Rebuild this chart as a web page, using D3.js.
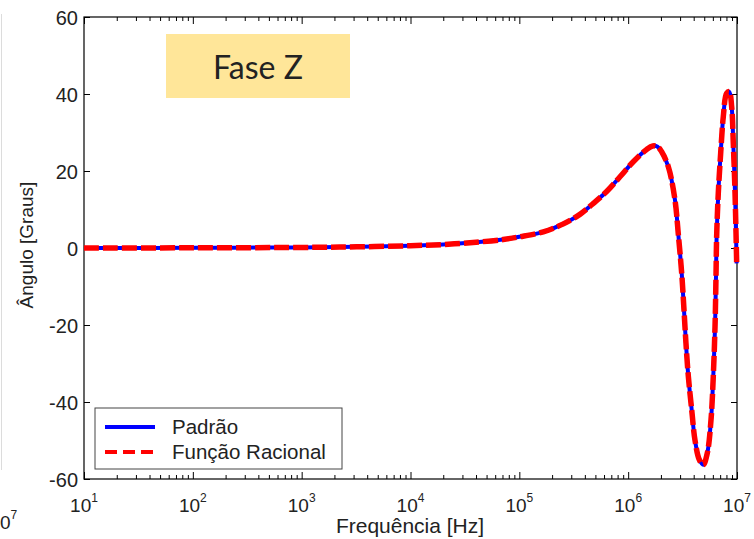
<!DOCTYPE html>
<html>
<head>
<meta charset="utf-8">
<script src="https://cdn.jsdelivr.net/npm/d3@7"></script>
<style>
  body { margin: 0; background: #fff; }
  svg { display: block; }
  text { font-family: "Liberation Sans", Arial, sans-serif; fill: #222; }
</style>
</head>
<body>
<svg id="chart" width="754" height="539"></svg>
<script>
// Impedance phase vs. frequency: reference response and rational-function fit
const freqHz = [
  10, 100, 1000, 3.2e3, 1e4, 2.0e4, 4.0e4, 7.1e4, 1.0e5, 1.66e5, 2.51e5,
  3.63e5, 4.79e5, 6.31e5, 8.41e5, 1.114e6, 1.479e6, 1.683e6, 1.862e6, 2.032e6,
  2.339e6, 2.692e6, 2.884e6, 3.105e6, 3.258e6, 3.396e6, 3.573e6, 3.837e6,
  4.111e6, 4.508e6, 4.898e6, 5.333e6, 5.768e6, 6.053e6, 6.281e6, 6.412e6,
  6.501e6, 6.730e6, 7.079e6, 7.482e6, 8.035e6, 8.492e6, 8.933e6, 9.247e6,
  9.594e6, 9.931e6
];
const padrao = [
  0.0, 0.05, 0.15, 0.3, 0.6, 0.9, 1.5, 2.2, 2.9, 4.2, 6.2,
  8.8, 11.6, 14.6, 18.5, 22.4, 25.6, 26.5, 26.3, 25.0,
  21.1, 12.5, 3.8, -6.6, -16.1, -24.7, -33.4, -42.1,
  -49.9, -55.0, -56.3, -53.3, -44.7, -33.4, -20.4, -7.4,
  3.0, 14.2, 24.6, 34.1, 40.2, 40.6, 36.7, 27.2,
  14.2, -4.0
];
const funcaoRacional = [
  0.0, 0.05, 0.15, 0.3, 0.6, 0.9, 1.5, 2.2, 2.9, 4.2, 6.2,
  8.8, 11.6, 14.6, 18.5, 22.4, 25.6, 26.5, 26.3, 25.0,
  21.1, 12.5, 3.8, -6.6, -16.1, -24.7, -33.4, -42.1,
  -49.9, -55.0, -56.3, -53.3, -44.7, -33.4, -20.4, -7.4,
  3.0, 14.2, 24.6, 34.1, 40.2, 40.6, 36.7, 27.2,
  14.2, -4.0
];
const yTicks = [-60, -40, -20, 0, 20, 40, 60];
const xTickExponents = [1, 2, 3, 4, 5, 6, 7];
const legendLabels = ["Padrão", "Função Racional"];
const titleText = "Fase Z";
const xLabel = "Frequência [Hz]";
const yLabel = "Ângulo [Graus]";

const svg = d3.select("#chart");
const plot = { left: 84, top: 17, right: 737, bottom: 479 };

const x = d3.scaleLog().domain([10, 1e7]).range([plot.left, plot.right]);
const y = d3.scaleLinear().domain([-60, 60]).range([plot.bottom, plot.top]);

const majorX = xTickExponents.map(e => Math.pow(10, e));
const minorX = [];
for (let e = 1; e < 7; e++) for (let m = 2; m <= 9; m++) minorX.push(m * Math.pow(10, e));

// faint edge of the neighbouring figure on the left
svg.append("line")
  .attr("x1", 1.5).attr("x2", 1.5).attr("y1", 14).attr("y2", 470)
  .attr("stroke", "#dcdcdc").attr("stroke-width", 1);
const edgeLabel = svg.append("text")
  .attr("x", 0).attr("y", 529)
  .style("font-size", "19px");
edgeLabel.append("tspan").text("0");
edgeLabel.append("tspan").attr("dy", -10).style("font-size", "12px").text("7");

// axis ticks (MATLAB style, pointing inward on all four sides)
function styleAxis(g) {
  g.select(".domain").remove();
  g.selectAll(".tick line").attr("stroke", "#000").attr("stroke-width", 1);
}

svg.append("g").attr("transform", `translate(0,${plot.bottom})`)
  .call(d3.axisBottom(x).tickValues(majorX).tickSize(-7).tickFormat(""))
  .call(styleAxis);
svg.append("g").attr("transform", `translate(0,${plot.bottom})`)
  .call(d3.axisBottom(x).tickValues(minorX).tickSize(-4).tickFormat(""))
  .call(styleAxis);
svg.append("g").attr("transform", `translate(0,${plot.top})`)
  .call(d3.axisTop(x).tickValues(majorX).tickSize(-7).tickFormat(""))
  .call(styleAxis);
svg.append("g").attr("transform", `translate(0,${plot.top})`)
  .call(d3.axisTop(x).tickValues(minorX).tickSize(-4).tickFormat(""))
  .call(styleAxis);

const yAxisLeft = svg.append("g").attr("transform", `translate(${plot.left},0)`)
  .call(d3.axisLeft(y).tickValues(yTicks).tickSize(-6).tickPadding(6).tickFormat(d => String(d)))
  .call(styleAxis);
yAxisLeft.selectAll(".tick text")
  .style("font-size", "20px")
  .attr("font-family", null)
  .attr("fill", "#222")
  .attr("dy", "0.36em");

svg.append("g").attr("transform", `translate(${plot.right},0)`)
  .call(d3.axisRight(y).tickValues(yTicks).tickSize(-6).tickFormat(""))
  .call(styleAxis);

// x tick labels as powers of ten
const xLabels = svg.append("g").selectAll("text")
  .data(xTickExponents)
  .join("text")
  .attr("x", e => x(Math.pow(10, e)))
  .attr("y", 512)
  .attr("text-anchor", "middle")
  .style("font-size", "19px");
xLabels.append("tspan").text("10");
xLabels.append("tspan").attr("dy", -10).style("font-size", "12px").text(e => e);

// plot frame
svg.append("rect")
  .attr("x", plot.left).attr("y", plot.top)
  .attr("width", plot.right - plot.left).attr("height", plot.bottom - plot.top)
  .attr("fill", "none").attr("stroke", "#000").attr("stroke-width", 1.2);

// axis titles
svg.append("text")
  .attr("x", 410).attr("y", 533)
  .attr("text-anchor", "middle").style("font-size", "21px").attr("fill", "#333")
  .text(xLabel);
svg.append("text")
  .attr("transform", `translate(33,${(plot.top + plot.bottom) / 2 - 3}) rotate(-90)`)
  .attr("text-anchor", "middle").style("font-size", "19px").attr("fill", "#333")
  .text(yLabel);

// curves
const line = d3.line()
  .x((d, i) => x(freqHz[i]))
  .y(d => y(d))
  .curve(d3.curveCatmullRom.alpha(0.5));

svg.append("path").datum(padrao)
  .attr("d", line).attr("fill", "none")
  .attr("stroke", "#0000ff").attr("stroke-width", 4)
  .attr("stroke-linejoin", "round");
svg.append("path").datum(funcaoRacional)
  .attr("d", line).attr("fill", "none")
  .attr("stroke", "#ff0000").attr("stroke-width", 5.5)
  .attr("stroke-dasharray", "15,4");

// legend
const legend = svg.append("g");
legend.append("rect")
  .attr("x", 95).attr("y", 408).attr("width", 247).attr("height", 61)
  .attr("fill", "#fff").attr("stroke", "#444").attr("stroke-width", 1);
const legendStyles = [
  { color: "#0000ff", dash: null },
  { color: "#ff0000", dash: "12,6" }
];
legendLabels.forEach((label, i) => {
  const cy = 427 + i * 25;
  legend.append("line")
    .attr("x1", 105).attr("x2", 155).attr("y1", cy).attr("y2", cy)
    .attr("stroke", legendStyles[i].color).attr("stroke-width", 4)
    .attr("stroke-dasharray", legendStyles[i].dash);
  legend.append("text")
    .attr("x", 172).attr("y", cy + 7)
    .style("font-size", "20.5px").attr("fill", "#333")
    .text(label);
});

// title box
svg.append("rect")
  .attr("x", 166).attr("y", 34).attr("width", 184).attr("height", 64)
  .attr("fill", "#ffe699");
svg.append("text")
  .attr("x", 258).attr("y", 79).attr("text-anchor", "middle")
  .style("font-family", "Lato, 'Open Sans', sans-serif")
  .style("font-size", "32px").attr("fill", "#111")
  .text(titleText);
</script>
</body>
</html>
